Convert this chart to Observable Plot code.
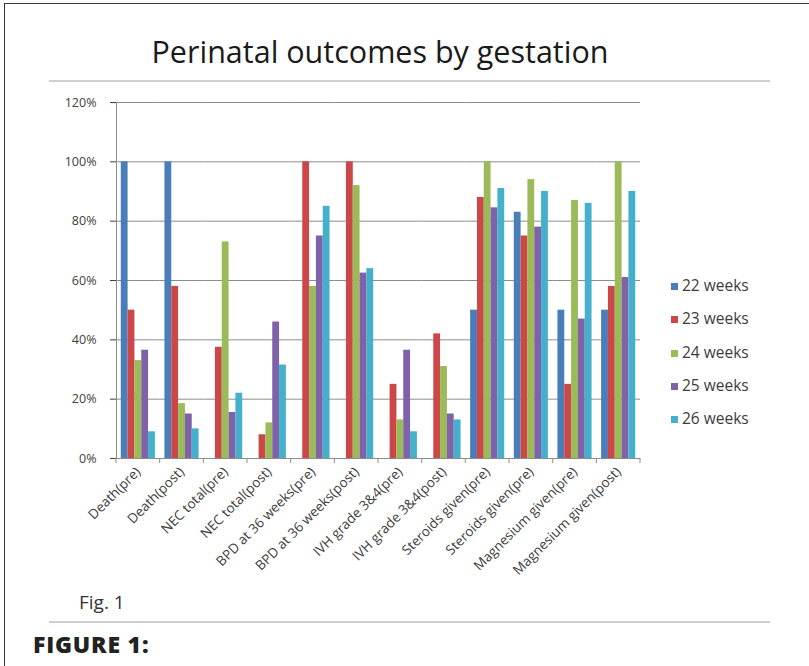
<!DOCTYPE html>
<html>
<head>
<meta charset="utf-8">
<script src="https://cdn.jsdelivr.net/npm/d3@7"></script>
<script src="https://cdn.jsdelivr.net/npm/@observablehq/plot@0.6"></script>
<style>
html, body { margin: 0; padding: 0; background: #fff; }
#page { position: relative; width: 809px; height: 666px; overflow: hidden; font-family: "Open Sans", sans-serif; background: #fff; }
#frame { position: absolute; left: 4px; top: 3px; width: 900px; height: 800px; border-left: 1.5px solid #3a3a3a; border-top: 1.5px solid #3a3a3a; }
#title { position: absolute; left: 0; width: 760px; top: 36px; text-align: center; font-size: 30.5px; color: #1a1a1a; line-height: 1; }
.hline { position: absolute; left: 49px; width: 721px; height: 2px; background: #cfcfcf; }
#fig { position: absolute; left: 79px; top: 593px; font-size: 19px; color: #333; line-height: 1; }
#caption { position: absolute; left: 33px; top: 633px; font-size: 23px; font-weight: 800; color: #222; line-height: 1; letter-spacing: 0.8px; }
#chart { position: absolute; left: 0; top: 90px; }
#legend { position: absolute; left: 671px; top: 275px; }
.item { position: absolute; left: 0; height: 20px; font-size: 15.5px; color: #3c3c3c; white-space: nowrap; line-height: 20px; }
.sw { display: inline-block; width: 7px; height: 7px; margin-right: 4px; vertical-align: 1px; }
</style>
</head>
<body>
<div id="page">
  <div id="frame"></div>
  <div id="title">Perinatal outcomes by gestation</div>
  <div class="hline" style="top:80px"></div>
  <div id="chart"></div>
  <div id="legend"></div>
  <div id="fig">Fig. 1</div>
  <div class="hline" style="top:621px"></div>
  <div id="caption">FIGURE 1:</div>
</div>
<script>
const categories = ["Death(pre)", "Death(post)", "NEC total(pre)", "NEC total(post)", "BPD at 36 weeks(pre)", "BPD at 36 weeks(post)", "IVH grade 3&4(pre)", "IVH grade 3&4(post)", "Steroids given(pre)", "Steroids given(pre)", "Magnesium given(pre)", "Magnesium given(post)"];
const series = ["22 weeks", "23 weeks", "24 weeks", "25 weeks", "26 weeks"];
const w22 = [100, 100, 0, 0, 0, 0, 0, 0, 50, 83, 50, 50];
const w23 = [50, 58, 37.5, 8, 100, 100, 25, 42, 88, 75, 25, 58];
const w24 = [33, 18.5, 73, 12, 58, 92, 13, 31, 100, 94, 87, 100];
const w25 = [36.5, 15, 15.5, 46, 75, 62.5, 36.5, 15, 84.5, 78, 47, 61];
const w26 = [9, 10, 22, 31.5, 85, 64, 9, 13, 91, 90, 86, 90];
const yTicks = [0, 20, 40, 60, 80, 100, 120];
const colors = ["#4a7ebb", "#cc4748", "#9bbb59", "#7f62a8", "#44b0cc"];

const seriesValues = [w22, w23, w24, w25, w26];
const rows = [];
categories.forEach((c, i) => {
  series.forEach((s, k) => rows.push({ci: i, s, v: seriesValues[k][i]}));
});

const plot = Plot.plot({
  width: 660,
  height: 510,
  marginLeft: 116,
  marginRight: 20,
  marginTop: 12,
  marginBottom: 142,
  style: {fontFamily: "Open Sans", fontSize: "13.5px", color: "#404040", background: "transparent"},
  fx: {domain: d3.range(categories.length), padding: 0, round: false, tickFormat: i => categories[i], tickRotate: -45, tickSize: 0, tickPadding: 11, label: null},
  x: {domain: series, axis: null, paddingInner: 0, paddingOuter: 0.7, round: false},
  y: {domain: [0, 120], ticks: yTicks, tickFormat: d => d + "%", tickSize: 6, tickPadding: 14, label: null},
  color: {domain: series, range: colors},
  marks: [
    Plot.ruleY(yTicks, {stroke: "#8c8c8c", strokeWidth: 1}),
    Plot.barY(rows, {fx: "ci", x: "s", y: "v", fill: "s"})
  ]
});
document.getElementById("chart").appendChild(plot);

// y tick labels a little smaller than the rotated category labels
d3.select(plot).selectAll("g[aria-label='y-axis tick label'] text, g[aria-label='y-axis'] text").style("font-size", "12.5px");

// axis lines and category boundary ticks, positioned from the plot's own scales
const fx = plot.scale("fx");
const ys = plot.scale("y");
const svg = d3.select(plot.tagName.toLowerCase() === "svg" ? plot : plot.querySelector("svg"));
const x0 = fx.apply(0);
const x1 = fx.apply(categories.length - 1) + fx.bandwidth;
const g = svg.append("g").attr("stroke", "#8c8c8c").attr("stroke-width", 1);
g.append("line").attr("x1", x0 + 0.5).attr("x2", x0 + 0.5).attr("y1", ys.apply(0)).attr("y2", ys.apply(120));
d3.range(categories.length + 1).forEach(i => {
  const x = i < categories.length ? fx.apply(i) : x1;
  g.append("line").attr("x1", x).attr("x2", x).attr("y1", ys.apply(0)).attr("y2", ys.apply(0) + 5);
});

// legend from the colour scale
const color = plot.scale("color");
const legend = document.getElementById("legend");
color.domain.forEach((d, k) => {
  const el = document.createElement("div");
  el.className = "item";
  el.style.top = (k * 33.3) + "px";
  el.innerHTML = `<span class="sw" style="background:${color.apply(d)}"></span>${d}`;
  legend.appendChild(el);
});
</script>
</body>
</html>
